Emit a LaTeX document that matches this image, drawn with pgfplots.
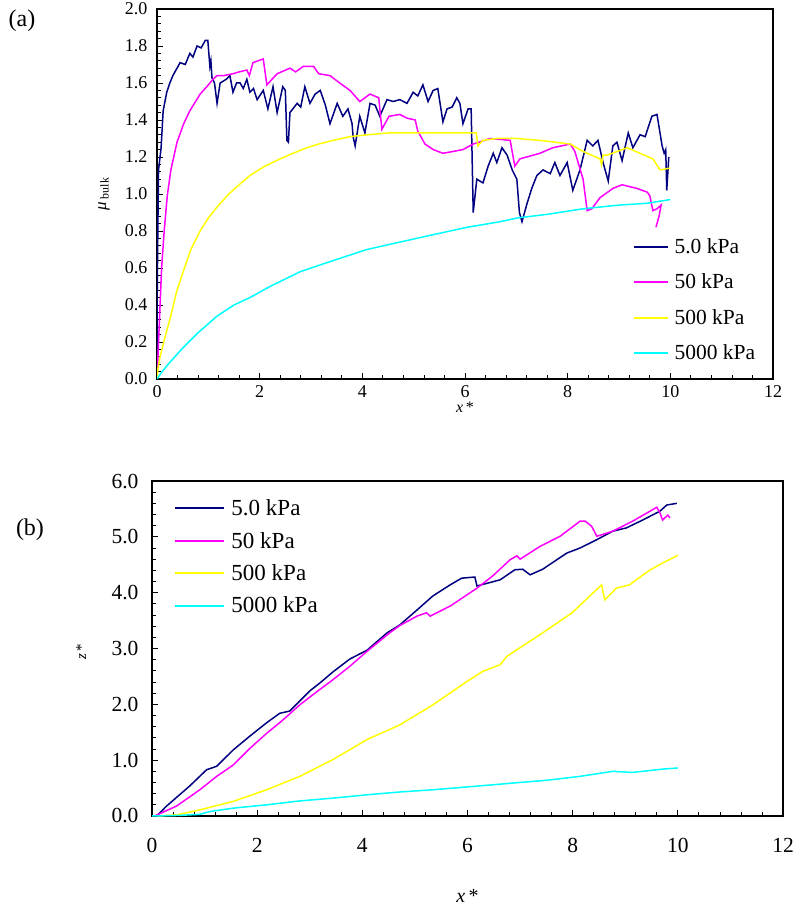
\documentclass[border=0pt]{standalone}
\usepackage{fontspec}
\setmainfont{Liberation Serif}
\usepackage{pgfplots}
\pgfplotsset{compat=1.18}
\definecolor{cnavy}{RGB}{0,0,128}
\definecolor{cmag}{RGB}{255,0,255}
\definecolor{cyel}{RGB}{255,255,0}
\definecolor{ccyan}{RGB}{0,255,255}
\pgfplotsset{
  common/.style={
    scale only axis,
    xmin=0, xmax=12,
    xtick={0,2,...,12},
    minor x tick num=4,
    minor y tick num=4,
    tick pos=left,
    tick align=inside,
    major tick length=6pt,
    minor tick length=4pt,
    tick style={line width=0.8pt, black},
    axis line style={line width=1.3pt, black},
    /pgf/number format/assume math mode=true,
    every axis plot/.append style={line width=1.5pt, mark=none},
    legend image code/.code={\draw[#1, line width=2.2pt] (0pt,0pt) -- (34pt,0pt);},
  }
}
\begin{document}
\begin{tikzpicture}
\path[use as bounding box] (0pt,3pt) rectangle (795pt,913pt);
\node[font=\fontsize{24}{26}\selectfont] at (22pt,892pt) {(a)};
\node[font=\fontsize{24}{26}\selectfont] at (30pt,383pt) {(b)};
% ---------- panel (a)
\begin{axis}[common,
  at={(157pt,534pt)}, anchor=south west,
  width=616pt, height=370pt,
  ymin=0, ymax=2.0, ytick={0,0.2,...,2.01},
  yticklabel style={/pgf/number format/fixed, /pgf/number format/fixed zerofill, /pgf/number format/precision=1, xshift=-6pt, inner ysep=0pt},
  tick label style={font=\fontsize{18}{20}\selectfont},
  xticklabel style={yshift=-3pt},
  xlabel={\textit{x}\,*},
  xlabel style={font=\fontsize{16}{18}\selectfont, at={(axis description cs:0.5,-0.076)}, anchor=center},
  ylabel={\textit{μ}\,\textsubscript{bulk}},
  ylabel style={font=\fontsize{17}{18}\selectfont, at={(axis description cs:-0.086,0.5)}, anchor=center},
  legend style={draw=none, fill=none, at={(axis description cs:0.773,0.38)}, anchor=north west,
    font=\fontsize{21.5}{24}\selectfont, row sep=19pt, column sep=5pt, inner sep=0pt,
    nodes={inner sep=0pt}},
  legend cell align=left,
]
\addplot[cnavy] coordinates {(0,0) (0.005,0.5) (0.02,0.9) (0.03,1.13) (0.08,1.25) (0.12,1.45) (0.19,1.55) (0.25,1.60) (0.31,1.64) (0.45,1.71) (0.55,1.70) (0.64,1.76) (0.70,1.74) (0.78,1.80) (0.86,1.79) (0.94,1.83) (0.99,1.83) (1.03,1.69) (1.05,1.72) (1.07,1.63) (1.12,1.60) (1.17,1.49) (1.23,1.60) (1.35,1.62) (1.42,1.64) (1.48,1.55) (1.55,1.60) (1.62,1.60) (1.68,1.57) (1.75,1.62) (1.81,1.55) (1.88,1.57) (1.95,1.51) (2.07,1.56) (2.16,1.46) (2.26,1.58) (2.34,1.44) (2.45,1.58) (2.50,1.56) (2.53,1.29) (2.56,1.28) (2.59,1.44) (2.73,1.49) (2.80,1.47) (2.88,1.58) (2.98,1.49) (3.08,1.54) (3.18,1.56) (3.28,1.48) (3.37,1.38) (3.51,1.49) (3.62,1.42) (3.72,1.46) (3.80,1.38) (3.82,1.31) (3.86,1.26) (3.95,1.42) (4.05,1.33) (4.15,1.49) (4.25,1.48) (4.34,1.42) (4.48,1.51) (4.60,1.50) (4.73,1.51) (4.87,1.49) (4.99,1.55) (5.08,1.53) (5.18,1.59) (5.28,1.50) (5.38,1.56) (5.47,1.57) (5.57,1.39) (5.65,1.46) (5.75,1.47) (5.84,1.52) (5.90,1.49) (5.96,1.38) (6.06,1.46) (6.12,1.46) (6.16,0.90) (6.23,1.08) (6.35,1.06) (6.45,1.15) (6.55,1.22) (6.62,1.17) (6.72,1.25) (6.82,1.21) (6.92,1.13) (7.01,1.08) (7.06,0.90) (7.11,0.85) (7.21,0.95) (7.30,1.03) (7.40,1.10) (7.52,1.13) (7.66,1.11) (7.75,1.17) (7.85,1.10) (7.99,1.17) (8.10,1.02) (8.24,1.13) (8.38,1.29) (8.49,1.26) (8.59,1.29) (8.69,1.17) (8.79,1.07) (8.88,1.26) (8.96,1.28) (9.06,1.18) (9.18,1.33) (9.27,1.25) (9.41,1.32) (9.51,1.31) (9.64,1.42) (9.74,1.43) (9.84,1.26) (9.88,1.22) (9.91,1.24) (9.93,1.02) (9.97,1.20)};
\addlegendentry{5.0 kPa}
\addplot[cmag] coordinates {(0,0) (0.03,0.20) (0.06,0.40) (0.09,0.60) (0.14,0.80) (0.20,0.99) (0.27,1.13) (0.39,1.28) (0.52,1.38) (0.64,1.45) (0.84,1.54) (0.97,1.58) (1.09,1.62) (1.17,1.64) (1.30,1.64) (1.48,1.65) (1.60,1.66) (1.75,1.67) (1.80,1.64) (1.87,1.71) (2.07,1.73) (2.14,1.59) (2.34,1.65) (2.59,1.68) (2.70,1.66) (2.85,1.69) (3.05,1.69) (3.15,1.65) (3.37,1.64) (3.56,1.60) (3.76,1.56) (3.95,1.50) (4.15,1.54) (4.32,1.52) (4.38,1.35) (4.52,1.42) (4.73,1.43) (4.87,1.41) (5.03,1.40) (5.08,1.34) (5.22,1.27) (5.38,1.24) (5.57,1.22) (5.77,1.23) (5.96,1.24) (6.16,1.27) (6.49,1.30) (6.88,1.29) (6.97,1.15) (7.07,1.19) (7.46,1.22) (7.71,1.25) (8.05,1.27) (8.14,1.23) (8.30,1.08) (8.38,0.91) (8.47,0.92) (8.63,0.98) (8.88,1.03) (9.06,1.05) (9.35,1.03) (9.55,1.01) (9.60,0.99) (9.66,0.91) (9.74,0.92) (9.82,0.94) (9.78,0.88) (9.72,0.82)};
\addlegendentry{50 kPa}
\addplot[cyel] coordinates {(0,0) (0.02,0.06) (0.06,0.12) (0.15,0.22) (0.25,0.32) (0.38,0.47) (0.51,0.58) (0.66,0.70) (0.84,0.80) (1.00,0.87) (1.17,0.93) (1.40,1.00) (1.60,1.05) (1.81,1.10) (2.10,1.15) (2.40,1.19) (2.65,1.22) (2.92,1.25) (3.15,1.27) (3.43,1.29) (3.76,1.31) (4.10,1.32) (4.50,1.33) (5.00,1.33) (5.50,1.33) (6.00,1.33) (6.22,1.33) (6.25,1.26) (6.35,1.29) (6.62,1.30) (7.00,1.30) (7.46,1.29) (8.05,1.27) (8.30,1.23) (8.63,1.19) (8.66,1.16) (8.69,1.21) (8.77,1.21) (9.16,1.25) (9.41,1.22) (9.66,1.19) (9.80,1.13) (9.99,1.14)};
\addlegendentry{500 kPa}
\addplot[ccyan] coordinates {(0,0) (0.1,0.04) (0.25,0.09) (0.51,0.17) (0.80,0.25) (1.17,0.34) (1.50,0.40) (1.81,0.44) (2.20,0.50) (2.79,0.58) (3.43,0.64) (4.09,0.70) (4.73,0.74) (5.38,0.78) (6.04,0.82) (6.68,0.85) (7.01,0.87) (7.60,0.89) (8.30,0.92) (9.00,0.94) (9.55,0.95) (10.0,0.97)};
\addlegendentry{5000 kPa}
\end{axis}
% ---------- panel (b)
\begin{axis}[common,
  at={(152pt,97pt)}, anchor=south west,
  width=631pt, height=335pt,
  ymin=0, ymax=6.0, ytick={0,1,...,6},
  yticklabel style={/pgf/number format/fixed, /pgf/number format/fixed zerofill, /pgf/number format/precision=1, xshift=-10pt},
  tick label style={font=\fontsize{21.5}{23}\selectfont},
  xticklabel style={yshift=-19pt},
  xlabel={\textit{x}\,*},
  xlabel style={font=\fontsize{20}{22}\selectfont, at={(axis description cs:0.5,-0.239)}, anchor=center},
  ylabel={\textit{z}\,*},
  ylabel style={font=\fontsize{15}{17}\selectfont, at={(axis description cs:-0.112,0.49)}, anchor=center},
  legend image code/.code={\draw[#1, line width=2.2pt] (0pt,0pt) -- (49pt,0pt);},
  legend style={draw=none, fill=none, at={(axis description cs:0.035,0.945)}, anchor=north west,
    font=\fontsize{23}{25}\selectfont, row sep=15pt, column sep=6pt, inner sep=0pt,
    nodes={inner sep=0pt}},
  legend cell align=left,
]
\addplot[cnavy] coordinates {(0.09,0) (0.28,0.18) (0.50,0.36) (0.72,0.54) (1.04,0.83) (1.23,0.89) (1.54,1.18) (1.86,1.43) (2.18,1.67) (2.43,1.84) (2.62,1.88) (2.81,2.06) (3.00,2.24) (3.19,2.38) (3.44,2.58) (3.76,2.81) (4.09,2.97) (4.47,3.28) (4.71,3.42) (5.04,3.69) (5.34,3.94) (5.67,4.14) (5.89,4.26) (6.14,4.28) (6.18,4.12) (6.62,4.23) (6.90,4.41) (7.05,4.42) (7.19,4.32) (7.43,4.42) (7.89,4.71) (8.14,4.80) (8.46,4.95) (8.76,5.10) (9.02,5.16) (9.33,5.30) (9.66,5.46) (9.79,5.57) (9.98,5.60)};
\addlegendentry{5.0 kPa}
\addplot[cmag] coordinates {(0.05,0) (0.47,0.18) (0.91,0.47) (1.23,0.71) (1.54,0.91) (1.86,1.21) (2.18,1.48) (2.49,1.72) (2.81,1.99) (3.14,2.23) (3.44,2.44) (3.76,2.68) (4.09,2.95) (4.52,3.28) (4.71,3.41) (5.04,3.58) (5.22,3.64) (5.29,3.58) (5.67,3.76) (6.18,4.08) (6.48,4.30) (6.81,4.59) (6.94,4.66) (7.00,4.60) (7.38,4.83) (7.76,5.01) (8.14,5.28) (8.24,5.28) (8.36,5.19) (8.46,5.01) (8.76,5.10) (9.14,5.28) (9.60,5.53) (9.66,5.43) (9.71,5.30) (9.81,5.39) (9.85,5.34)};
\addlegendentry{50 kPa}
\addplot[cyel] coordinates {(0.1,0) (0.47,0.02) (0.91,0.11) (1.54,0.26) (2.18,0.47) (2.81,0.71) (3.44,1.01) (4.09,1.37) (4.71,1.63) (5.34,1.99) (5.99,2.41) (6.29,2.59) (6.62,2.71) (6.75,2.86) (7.43,3.28) (7.99,3.64) (8.55,4.14) (8.61,3.87) (8.83,4.08) (9.08,4.14) (9.46,4.40) (9.71,4.53) (10.0,4.67)};
\addlegendentry{500 kPa}
\addplot[ccyan] coordinates {(0,0) (0.5,0.01) (0.91,0.03) (1.10,0.08) (1.54,0.14) (2.18,0.20) (2.81,0.27) (3.44,0.32) (4.09,0.38) (4.71,0.43) (5.34,0.47) (5.99,0.52) (6.62,0.57) (6.86,0.59) (7.51,0.64) (8.14,0.71) (8.76,0.80) (9.14,0.78) (9.71,0.84) (10.0,0.86)};
\addlegendentry{5000 kPa}
\end{axis}
\end{tikzpicture}
\end{document}
